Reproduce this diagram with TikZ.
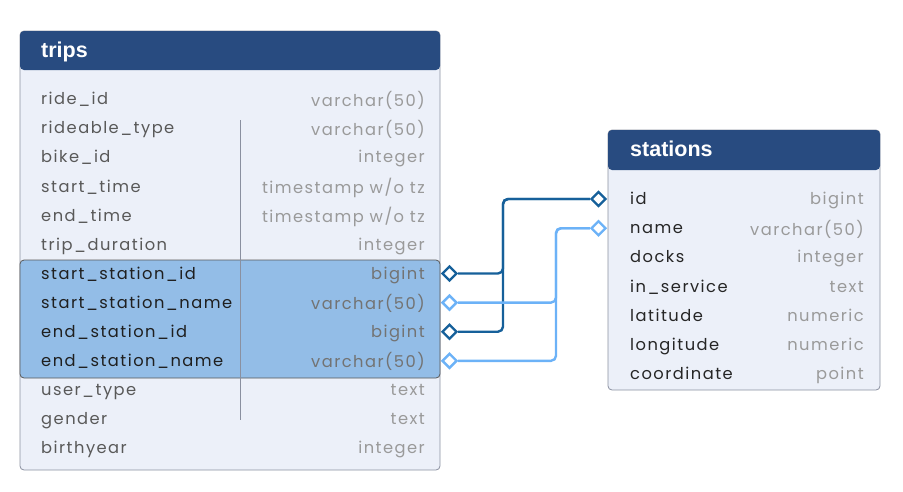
\documentclass[tikz,border=0pt]{standalone}
\usepackage{fontspec}
\setmainfont{Poppins}[LetterSpace=9]
\newfontfamily\headfont{Liberation Sans}
\usetikzlibrary{positioning,shapes.geometric}
\definecolor{head}{HTML}{284B80}
\definecolor{body}{HTML}{ECF0F9}
\definecolor{frame}{HTML}{8A90A0}
\definecolor{hilite}{HTML}{93BDE7}
\definecolor{fkdark}{HTML}{16609A}
\definecolor{fklight}{HTML}{6CB2F7}
\definecolor{typegray}{HTML}{9A9A9A}
\tikzset{
  tablebox/.style={draw=frame,fill=body,rounded corners=4,line width=0.8},
  headbox/.style={fill=head,rounded corners=4},
  title/.style={anchor=west,text=white,font=\headfont\bfseries\fontsize{21.5}{24}\selectfont,inner sep=0},
  field/.style={anchor=west,text=#1,font=\fontsize{16.3}{18}\selectfont,inner sep=0},
  ftype/.style={anchor=east,text=#1,font=\fontsize{16.3}{18}\selectfont,inner sep=0},
  ftype/.default=typegray,
  key/.style={diamond,draw=#1,fill=white,line width=2.4,minimum size=15,inner sep=0},
  fk/.style={draw=#1,line width=2.4,rounded corners=5}
}
\begin{document}
\begin{tikzpicture}[x=1pt,y=-1pt]
\useasboundingbox (0,0) rectangle (903,491);
% trips table
\draw[tablebox] (20,31) rectangle (440,470);
\fill[headbox] (20,31) rectangle (440,70);
\draw[draw=black!65,fill=hilite,rounded corners=4,line width=0.8] (20,260) rectangle (440,378);
\draw[frame,line width=0.8] (240,120) -- (240,420);
\node[title] (trips) at (41,52) {trips};
\foreach \name/\type/\col/\tcol [count=\i] in {
  ride\_id/varchar(50)/black!65/typegray,
  rideable\_type/varchar(50)/black!65/typegray,
  bike\_id/integer/black!65/typegray,
  start\_time/{timestamp w/o tz}/black!65/typegray,
  end\_time/{timestamp w/o tz}/black!65/typegray,
  trip\_duration/integer/black!65/typegray,
  start\_station\_id/bigint/black!88/black!55,
  start\_station\_name/varchar(50)/black!88/black!55,
  end\_station\_id/bigint/black!88/black!55,
  end\_station\_name/varchar(50)/black!88/black!55,
  user\_type/text/black!65/typegray,
  gender/text/black!65/typegray,
  birthyear/integer/black!65/typegray}
{
  \node[field=\col] (t\i) at (41,72+29.1*\i) {\strut\name};
  \node[ftype=\tcol] (tt\i) at (425,72+29.1*\i) {\strut\type};
}
% stations table
\draw[tablebox] (608,130) rectangle (880,390);
\fill[headbox] (608,130) rectangle (880,170);
\node[title] (stations) at (630,149) {stations};
\foreach \name/\type [count=\i] in {
  id/bigint,name/varchar(50),docks/integer,in\_service/text,
  latitude/numeric,longitude/numeric,coordinate/point}
{
  \node[field=black!85] (s\i) at (630,172+29.1*\i) {\strut\name};
  \node[ftype] (st\i) at (864,172+29.1*\i) {\strut\type};
}
% keys
\node[key=fkdark] (k1) at (449.5,273.5) {};
\node[key=fklight] (k2) at (449.5,302.6) {};
\node[key=fkdark] (k3) at (449.5,331.7) {};
\node[key=fklight] (k4) at (449.5,360.8) {};
\node[key=fkdark] (r1) at (598.5,199) {};
\node[key=fklight] (r2) at (598.5,228.2) {};
% links
\draw[fk=fkdark] (k1.east) -- (503,273.5) |- (r1.west);
\draw[fk=fkdark] (k3.east) -- (503,331.7) |- (r1.west);
\draw[fk=fklight] (k2.east) -- (556,302.6) |- (r2.west);
\draw[fk=fklight] (k4.east) -- (556,360.8) |- (r2.west);
\end{tikzpicture}
\end{document}
